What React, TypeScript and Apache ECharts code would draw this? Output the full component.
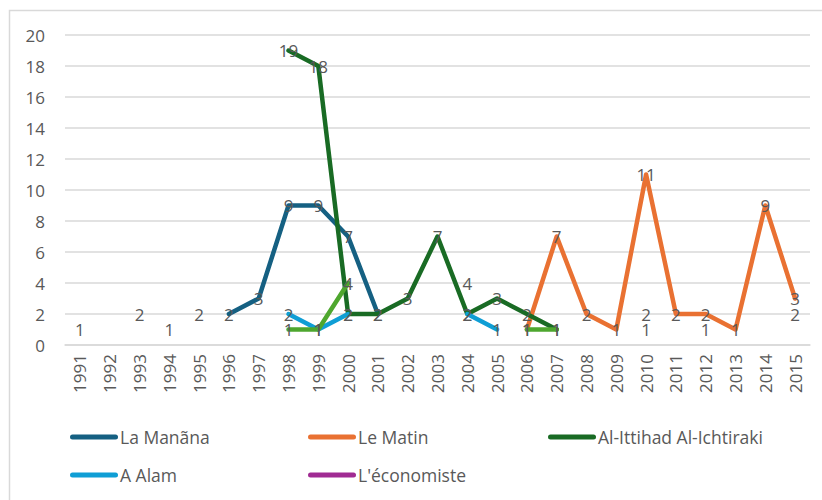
import React, { useEffect, useRef } from "react";
import * as echarts from "echarts";

const years = [
  "1991", "1992", "1993", "1994", "1995", "1996", "1997", "1998", "1999", "2000",
  "2001", "2002", "2003", "2004", "2005", "2006", "2007", "2008", "2009", "2010",
  "2011", "2012", "2013", "2014", "2015",
];

const yTicks = [0, 2, 4, 6, 8, 10, 12, 14, 16, 18, 20];

const laManana = [null, null, null, 1, null, 2, 3, 9, 9, 7, 2, null, null, null, null, null, null, null, null, 1, null, null, null, null, null];
const leMatin = [null, null, null, null, null, null, null, null, null, null, null, null, null, null, null, 1, 7, 2, 1, 11, 2, 2, 1, 9, 3];
const alIttihad = [null, null, null, null, null, null, null, 19, 18, 2, 2, 3, 7, 2, 3, 2, 1, null, null, null, null, null, null, null, null];
const aAlam = [null, null, null, null, null, null, null, 2, 1, 2, null, null, null, 2, 1, null, null, null, null, null, null, null, null, null, null];
const economiste = [1, null, 2, null, 2, null, null, null, null, null, null, null, null, 4, null, null, null, null, null, 2, null, 1, null, null, 2];
const other = [null, null, null, null, null, null, null, 1, 1, 4, null, null, null, null, null, 1, 1, null, null, null, null, null, null, null, null];

const seriesDefs = [
  { name: "La Manãna", data: laManana, color: "#156082" },
  { name: "Le Matin", data: leMatin, color: "#E97132" },
  { name: "Al-Ittihad Al-Ichtiraki", data: alIttihad, color: "#196B24" },
  { name: "A Alam", data: aAlam, color: "#0F9ED5" },
  { name: "L'économiste", data: economiste, color: "#A02B93" },
  { name: "Série 6", data: other, color: "#4EA72E" },
];

const legendPos = [
  { left: 65, top: 423 },
  { left: 303, top: 423 },
  { left: 543, top: 423 },
  { left: 65, top: 461 },
  { left: 303, top: 461 },
];

const FONT = "'Open Sans', Roboto, sans-serif";
const TEXT = "#595959";

export default function App() {
  const ref = useRef<HTMLDivElement>(null);
  useEffect(() => {
    if (!ref.current) return;
    const chart = echarts.init(ref.current, undefined, { renderer: "svg" });
    const capsule = "path://M2.5,0 H45.5 A2.5,2.5 0 0 1 45.5,5 H2.5 A2.5,2.5 0 0 1 2.5,0 Z";
    chart.setOption({
      animation: false,
      backgroundColor: "#ffffff",
      textStyle: { fontFamily: FONT },
      graphic: [
        {
          type: "rect",
          shape: { x: 9.5, y: 10.5, width: 900, height: 600 },
          style: { fill: "none", stroke: "#d9d9d9", lineWidth: 1.5 },
          silent: true,
          z: -10,
        },
      ],
      grid: { left: 65, right: 12, top: 35, bottom: 155, containLabel: false },
      legend: seriesDefs.slice(0, 5).map((s, i) => ({
        data: [
          {
            name: s.name,
            icon: capsule,
            itemStyle: { color: s.color, opacity: 1, borderWidth: 0 },
          },
        ],
        left: legendPos[i].left,
        top: legendPos[i].top,
        itemWidth: 48,
        itemHeight: 5,
        selectedMode: false,
        itemStyle: { opacity: 1 },
        lineStyle: { width: 0, opacity: 0 },
        textStyle: { color: TEXT, fontSize: 17.5, fontFamily: FONT, padding: [0, 0, 0, -3] },
      })),
      xAxis: {
        type: "category",
        data: years,
        boundaryGap: true,
        axisLine: { show: true, lineStyle: { color: "#d9d9d9", width: 1.5 } },
        axisTick: { show: false },
        axisLabel: {
          rotate: 90,
          color: TEXT,
          fontSize: 17,
          fontFamily: FONT,
          margin: 9,
          interval: 0,
        },
      },
      yAxis: {
        type: "value",
        min: yTicks[0],
        max: yTicks[yTicks.length - 1],
        interval: 2,
        axisLine: { show: false },
        axisTick: { show: false },
        splitLine: { lineStyle: { color: "#d9d9d9", width: 1.5 } },
        axisLabel: { color: TEXT, fontSize: 17, fontFamily: FONT, margin: 20 },
      },
      series: seriesDefs.map((s) => ({
        name: s.name,
        type: "line",
        data: s.data,
        connectNulls: false,
        symbol: "circle",
        symbolSize: 1,
        showSymbol: true,
        itemStyle: { color: s.color, opacity: 0 },
        lineStyle: { color: s.color, width: 4.5, cap: "round", join: "round" },
        label: {
          show: true,
          position: "inside",
          color: TEXT,
          fontSize: 17,
          fontFamily: FONT,
          opacity: 1,
        },
        emphasis: { disabled: true },
      })),
    });
    return () => chart.dispose();
  }, []);
  return (
    <div
      ref={ref}
      style={{ position: "fixed", left: 0, top: 0, width: 822, height: 500 }}
    />
  );
}
